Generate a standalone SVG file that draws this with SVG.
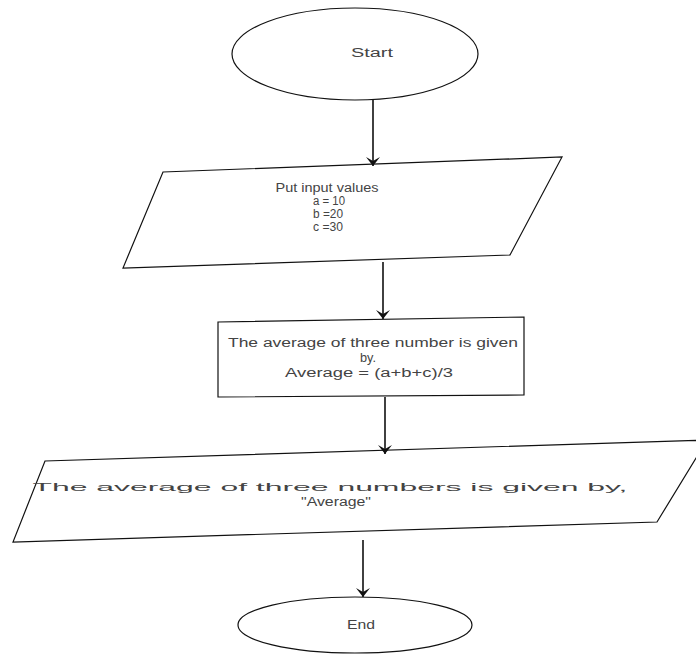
<svg xmlns="http://www.w3.org/2000/svg" width="696" height="659" viewBox="0 0 696 659">
<style>
.shape{fill:#fff;stroke:#111;stroke-width:1.2}
.conn{stroke:#111;stroke-width:1.6;fill:none;marker-end:url(#ah)}
.t{font-family:"Liberation Sans",Arial,sans-serif;font-size:12px;fill:#444;text-anchor:middle}
.s{font-size:11px}
</style>
<defs>
<marker id="ah" markerWidth="9" markerHeight="14" refX="9" refY="7" orient="auto" markerUnits="userSpaceOnUse" viewBox="0 0 9 14">
<path d="M0,0 L9,7 L0,14 L4,7 Z" fill="#111"/>
</marker>
</defs>
<rect width="696" height="659" fill="#fff"/>
<g id="start">
<ellipse class="shape" cx="355" cy="54" rx="123" ry="46"/>
<text class="t" x="372" y="57" textLength="42" lengthAdjust="spacingAndGlyphs">Start</text>
</g>
<g id="input">
<polygon class="shape" points="163,172 562,157 510,255 123,268"/>
<text class="t" x="327" y="192" textLength="103" lengthAdjust="spacingAndGlyphs">Put input values</text>
<text class="t" x="329" y="205" textLength="32" lengthAdjust="spacingAndGlyphs">a = 10</text>
<text class="t" x="328" y="218" textLength="30" lengthAdjust="spacingAndGlyphs">b =20</text>
<text class="t" x="328" y="231" textLength="30" lengthAdjust="spacingAndGlyphs">c =30</text>
</g>
<g id="process">
<polygon class="shape" points="218,322 524,317 524,395 218,397"/>
<text class="t" x="373" y="347" textLength="290" lengthAdjust="spacingAndGlyphs">The average of three number is given</text>
<text class="t" x="368" y="362" textLength="16" lengthAdjust="spacingAndGlyphs">by.</text>
<text class="t" x="369" y="377" textLength="168" lengthAdjust="spacingAndGlyphs">Average = (a+b+c)/3</text>
</g>
<g id="output">
<polygon class="shape" points="45,461 707,440 657,522 13,542"/>
<text class="t s" x="330" y="491" textLength="595" lengthAdjust="spacingAndGlyphs">The average of three numbers is given by,</text>
<text class="t" x="336" y="506" textLength="70" lengthAdjust="spacingAndGlyphs">"Average"</text>
</g>
<g id="end">
<ellipse class="shape" cx="355" cy="625" rx="117" ry="28"/>
<text class="t" x="361" y="629" textLength="28" lengthAdjust="spacingAndGlyphs">End</text>
</g>
<g id="connectors">
<line class="conn" x1="373" y1="100" x2="373" y2="166"/>
<line class="conn" x1="383" y1="262" x2="383" y2="319"/>
<line class="conn" x1="385" y1="397" x2="385" y2="454"/>
<line class="conn" x1="363" y1="540" x2="363" y2="597"/>
</g>
</svg>
